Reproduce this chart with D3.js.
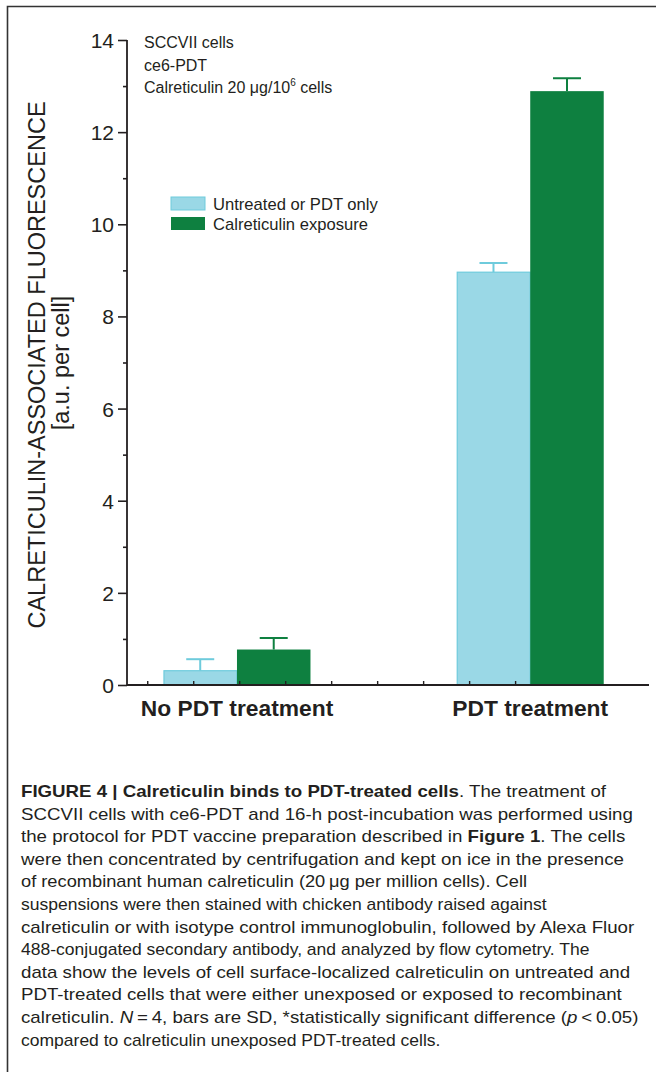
<!DOCTYPE html>
<html><head><meta charset="utf-8">
<script src="https://cdn.jsdelivr.net/npm/d3@7"></script>
<style>body{margin:0;background:#fff}svg{display:block}</style>
</head><body>
<svg id="c" width="656" height="1072"></svg>
<script>
const categories = ["No PDT treatment", "PDT treatment"];
const seriesNames = ["Untreated or PDT only", "Calreticulin exposure"];
const untreatedMean = [0.31, 8.96];
const untreatedSD = [0.25, 0.2];
const calrMean = [0.77, 12.89];
const calrSD = [0.25, 0.28];
const yTickValues = [0, 2, 4, 6, 8, 10, 12, 14];
const yMinorValues = [1, 3, 5, 7, 9, 11, 13];
const annotation = ["SCCVII cells", "ce6-PDT"];
const captionLines = [
  [["b","FIGURE 4 | Calreticulin binds to PDT-treated cells"],["n",". The treatment of"]],
  [["n","SCCVII cells with ce6-PDT and 16-h post-incubation was performed using"]],
  [["n","the protocol for PDT vaccine preparation described in "],["b","Figure 1"],["n",". The cells"]],
  [["n","were then concentrated by centrifugation and kept on ice in the presence"]],
  [["n","of recombinant human calreticulin (20\u2009\u03bcg per million cells). Cell"]],
  [["n","suspensions were then stained with chicken antibody raised against"]],
  [["n","calreticulin or with isotype control immunoglobulin, followed by Alexa Fluor"]],
  [["n","488-conjugated secondary antibody, and analyzed by flow cytometry. The"]],
  [["n","data show the levels of cell surface-localized calreticulin on untreated and"]],
  [["n","PDT-treated cells that were either unexposed or exposed to recombinant"]],
  [["n","calreticulin. "],["i","N"],["n","\u2009=\u20094, bars are SD, *statistically significant difference ("],["i","p"],["n","\u2009<\u20090.05)"]],
  [["n","compared to calreticulin unexposed PDT-treated cells."]]
];
// approximate right edge of each caption line (layout)
const captionEnds = [606, 638, 634, 648, 527, 540, 642, 566, 638, 634, 646, 420];

const svg = d3.select("#c");
const ink = "#231f20";
const lightFill = "#9ad8e6", lightStroke = "#6ecbdc", green = "#0e8040";
const font = "Liberation Sans, Arial, sans-serif";

// frame
svg.append("path").attr("d","M7.5,1072 V6.5 H656").attr("fill","none").attr("stroke","#333").attr("stroke-width",1.6);

const y = d3.scaleLinear().domain([0,14]).range([685,40]);
const x = d3.scaleLinear().domain([-0.375, 1.405]).range([127,649]);
const barW = 73.5;

const g = svg.append("g");
// y axis
const yAxis = g.append("g").attr("transform","translate(127,0)")
  .call(d3.axisLeft(y).tickValues(yTickValues).tickSize(9).tickPadding(4).tickFormat(d3.format("d")));
yAxis.select(".domain").remove();
yAxis.selectAll("line").attr("stroke",ink).attr("stroke-width",1.6);
yAxis.selectAll("text").attr("font-family",font).attr("font-size",21).attr("fill",ink).attr("dy","0.36em");
const yMinor = g.append("g").attr("transform","translate(127,0)")
  .call(d3.axisLeft(y).tickValues(yMinorValues).tickSize(4).tickFormat(""));
yMinor.select(".domain").remove();
yMinor.selectAll("line").attr("stroke",ink).attr("stroke-width",1.6);
g.append("line").attr("x1",127).attr("x2",127).attr("y1",y(14)).attr("y2",y(0)).attr("stroke",ink).attr("stroke-width",1.8);

// bars
const data = categories.map((c,i)=>[
  {c:i, v:untreatedMean[i], sd:untreatedSD[i], s:0},
  {c:i, v:calrMean[i], sd:calrSD[i], s:1}
]).flat();
const bx = d => d.s===0 ? x(d.c)-barW : x(d.c);
const eb = g.append("g");
data.forEach(d=>{
  const col = d.s===0 ? lightStroke : green;
  const cx = bx(d)+barW/2;
  eb.append("line").attr("x1",cx).attr("x2",cx).attr("y1",y(d.v)).attr("y2",y(d.v+d.sd)).attr("stroke",col).attr("stroke-width",2);
  eb.append("line").attr("x1",cx-14).attr("x2",cx+14).attr("y1",y(d.v+d.sd)).attr("y2",y(d.v+d.sd)).attr("stroke",col).attr("stroke-width",2);
});
g.append("g").selectAll("rect").data(data).join("rect")
  .attr("x",d=>bx(d)+(d.s===0?0.5:0)).attr("width",d=>barW-(d.s===0?0.5:0))
  .attr("y",d=>y(d.v)).attr("height",d=>y(0)-y(d.v))
  .attr("fill",d=>d.s===0?lightFill:green)
  .attr("stroke",d=>d.s===0?lightStroke:"none").attr("stroke-width",1.2);

// x axis
const xMinor = d3.range(0.069, 1.405, 0.1568);
const xAx = g.append("g").attr("transform","translate(0,685)")
  .call(d3.axisBottom(x).tickValues(xMinor.map(v=>v-0.375)).tickSize(-4).tickFormat(""));
xAx.select(".domain").remove();
xAx.selectAll("line").attr("stroke",ink).attr("stroke-width",1.4);
g.append("line").attr("x1",127).attr("x2",649).attr("y1",685).attr("y2",685).attr("stroke",ink).attr("stroke-width",1.8);
g.append("g").selectAll("text").data(categories).join("text")
  .attr("x",(d,i)=>x(i)).attr("y",716).attr("text-anchor","middle")
  .attr("font-family",font).attr("font-weight","bold").attr("font-size",22.8).attr("fill",ink).text(d=>d);

// y label
g.append("text").attr("transform","translate(45,365) rotate(-90)").attr("text-anchor","middle")
  .attr("font-family",font).attr("font-size",23.5).attr("fill",ink).text("CALRETICULIN-ASSOCIATED FLUORESCENCE");
g.append("text").attr("transform","translate(69,363) rotate(-90)").attr("text-anchor","middle")
  .attr("font-family",font).attr("font-size",23.5).attr("fill",ink).text("[a.u. per cell]");

// annotation
const ann = g.append("g").attr("font-family",font).attr("font-size",16).attr("fill",ink);
annotation.forEach((t,i)=>ann.append("text").attr("x",144).attr("y",48+i*23).text(t));
const t3 = ann.append("text").attr("x",144).attr("y",93);
t3.append("tspan").text("Calreticulin 20 \u03bcg/10");
t3.append("tspan").attr("font-size",10).attr("dy",-7).text("6");
t3.append("tspan").attr("dy",7).text(" cells");

// legend
const lg = g.append("g");
seriesNames.forEach((s,i)=>{
  lg.append("rect").attr("x",171).attr("y",197+i*20).attr("width",34).attr("height",13)
    .attr("fill",i===0?lightFill:green).attr("stroke",i===0?lightStroke:"none");
  lg.append("text").attr("x",213).attr("y",209.5+i*20).attr("font-family",font).attr("font-size",16.6).attr("fill",ink).text(s);
});

// caption
const capX = 21;
const cap = svg.append("g").attr("font-family","Liberation Sans Narrow, Arial Narrow, sans-serif").attr("font-size",17).attr("fill","#231f20");
captionLines.forEach((parts,i)=>{
  const t = cap.append("text").attr("x",capX).attr("y",797+i*22.6);
  parts.forEach(([k,s])=>{
    const sp = t.append("tspan").text(s);
    if(k==="b") sp.attr("font-weight","bold");
    if(k==="i") sp.attr("font-style","italic");
  });
  const nat = t.node().getComputedTextLength();
  const target = Math.max(nat*1.03, Math.min(nat*1.1, captionEnds[i]-capX));
  t.attr("textLength", target).attr("lengthAdjust","spacingAndGlyphs");
});
</script>
</body></html>
